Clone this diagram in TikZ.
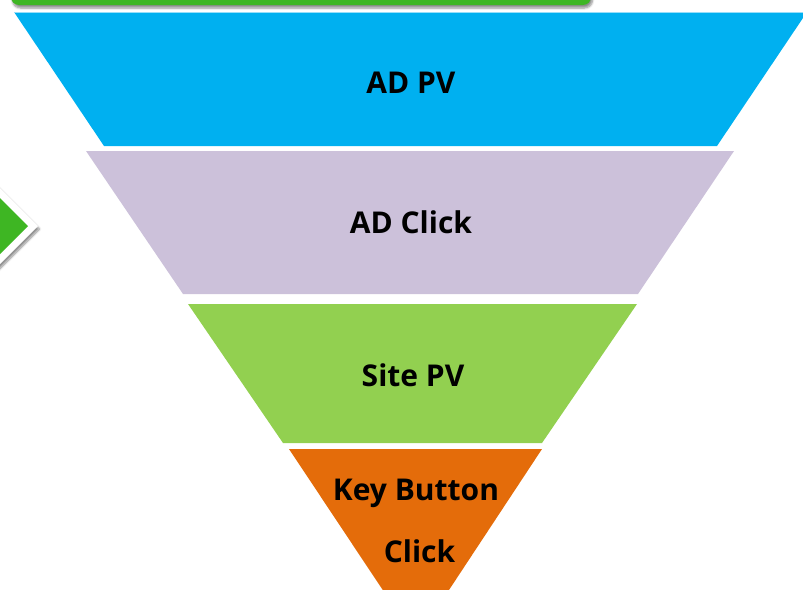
\documentclass[tikz,border=0pt]{standalone}
\usepackage{fontspec}
\setmainfont{Open Sans}
\usetikzlibrary{shadows.blur}

\definecolor{funnelblue}{RGB}{0,176,240}
\definecolor{funnelpurple}{RGB}{204,193,218}
\definecolor{funnelgreen}{RGB}{146,208,80}
\definecolor{funnelorange}{RGB}{228,108,10}
\definecolor{accentgreen}{RGB}{62,182,35}
\definecolor{rimblue}{RGB}{150,222,250}

\tikzset{
  layerlabel/.style={font=\fontsize{30}{36}\selectfont\bfseries, anchor=base, inner sep=0pt, text=black},
  softshadow/.style={blur shadow={shadow xshift=1.5pt, shadow yshift=-3pt, shadow opacity=45, shadow blur steps=6}}
}

\begin{document}
\begin{tikzpicture}[x=1pt, y=-1pt]
\useasboundingbox (0,0) rectangle (803,589);
\begin{scope}
  \clip (0,0) rectangle (803,589);

  % banner bar running off the top edge
  \fill[accentgreen, rounded corners=8pt, softshadow] (11,-30) rectangle (591,5);

  % arrow head entering from the left: white rim, then green fill
  \fill[white, softshadow] (-60,128) -- (38,226) -- (-60,324) -- cycle;
  \fill[accentgreen] (-60,138) -- (28,226) -- (-60,314) -- cycle;

  % funnel layers
  \fill[funnelblue]   (14,12)  -- (807,12)  -- (717,146) -- (104,146) -- cycle;
  \draw[rimblue, line width=1pt] (14,12.5) -- (807,12.5);
  \fill[funnelpurple] (86,151) -- (734,151) -- (638,294) -- (183,294) -- cycle;
  \fill[funnelgreen]  (188,304) -- (637,304) -- (542,443) -- (283,443) -- cycle;
  \fill[funnelorange] (289,449) -- (542,449) -- (416,640) -- cycle;
\end{scope}

% layer labels
\node[layerlabel] (adpv)    at (411,93.3)  {AD PV};
\node[layerlabel] (adclick) at (411,233.3) {AD Click};
\node[layerlabel] (sitepv)  at (413,386.7) {Site PV};
\node[layerlabel] (keybtn)  at (416,500.7) {Key Button};
\node[layerlabel] (keyclk)  at (419.5,562.3) {Click};
\end{tikzpicture}
\end{document}
